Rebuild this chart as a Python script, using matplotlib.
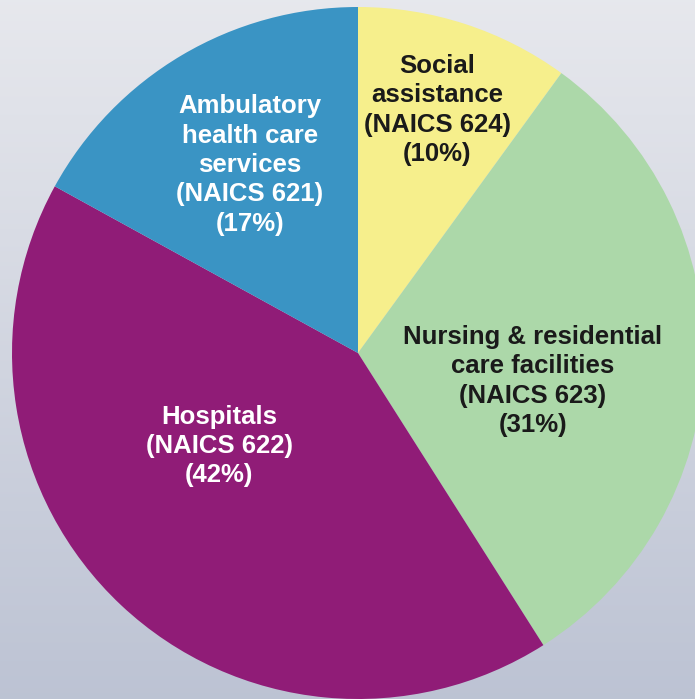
import numpy as np
import matplotlib.pyplot as plt

# data
labels = ['Social\nassistance\n(NAICS 624)\n(10%)',
          'Nursing & residential\ncare facilities\n(NAICS 623)\n(31%)',
          'Hospitals\n(NAICS 622)\n(42%)',
          'Ambulatory\nhealth care\nservices\n(NAICS 621)\n(17%)']
shares = [10, 31, 42, 17]
colors = ['#f6ef8c', '#acd8a9', '#901c77', '#3a94c4']
text_colors = ['#1a1a1a', '#1a1a1a', 'white', 'white']
# label centres in pixel coords (x, y from top)
label_pos = [(437, 110), (533, 381), (219, 446), (250, 165)]

W, H = 695, 699
fig = plt.figure(figsize=(W / 100, H / 100), dpi=100)
ax = fig.add_axes([0, 0, 1, 1])

# background gradient
grad = np.linspace(0, 1, 256).reshape(-1, 1)
top = np.array([0.905, 0.910, 0.930])
bot = np.array([0.740, 0.765, 0.830])
img = top + (bot - top) * grad[:, :, None]
ax.imshow(img, extent=[0, W, 0, H], aspect='auto', zorder=0)

ax.pie(shares, colors=colors, startangle=90, counterclock=False,
       center=(358, H - 353), radius=346,
       wedgeprops=dict(linewidth=0, zorder=1))

for lab, (x, y), tc in zip(labels, label_pos, text_colors):
    ax.text(x, H - y, lab, ha='center', va='center', color=tc,
            fontsize=18.5, fontweight='bold', family='Liberation Sans',
            linespacing=1.28, zorder=3)

ax.set_xlim(0, W)
ax.set_ylim(0, H)
ax.set_aspect('auto')
ax.axis('off')
fig.savefig('out.png', dpi=100)
